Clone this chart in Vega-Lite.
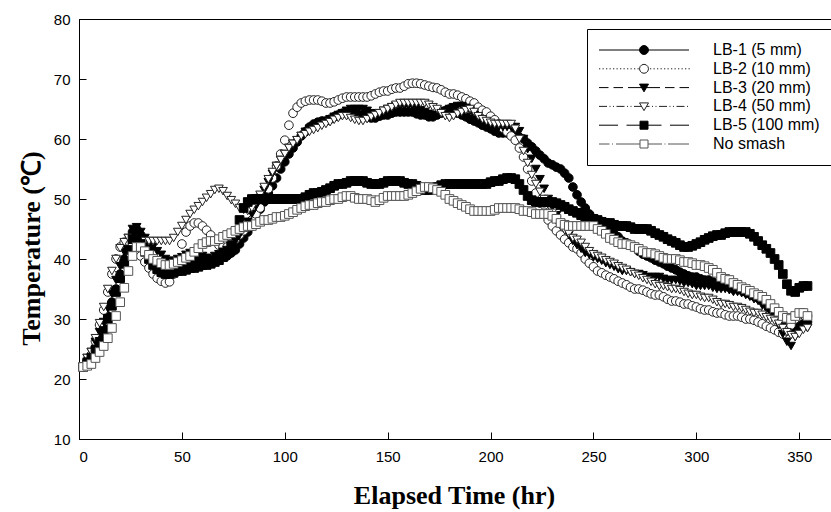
{
  "$schema": "https://vega.github.io/schema/vega-lite/v6.json",
  "autosize": {"type": "none"},
  "padding": {"left": 79, "top": 19, "right": -1, "bottom": 73},
  "width": 753,
  "height": 420,
  "background": "white",
  "config": {
    "view": {"stroke": "black", "strokeWidth": 1},
    "axis": {
      "domainColor": "black", "tickColor": "black", "labelColor": "black", "titleColor": "black",
      "labelFont": "Liberation Sans", "labelFontSize": 15,
      "titleFont": "Liberation Serif", "titleFontSize": 26, "titleFontWeight": "bold",
      "grid": false, "tickSize": -7, "domainWidth": 1, "tickWidth": 1
    },
    "legend": {
      "orient": "none", "legendX": 508, "legendY": 10,
      "strokeColor": "black", "fillColor": "white", "padding": 13,
      "labelFont": "Liberation Sans", "labelFontSize": 16, "labelColor": "black",
      "labelOffset": 101, "symbolOffset": -4, "rowPadding": 2.8, "symbolSize": 100, "symbolStrokeWidth": 1,
      "labelLimit": 400
    }
  },
  "data": {"name": "temps"},
  "mark": {"type": "point", "filled": true, "size": 75, "strokeWidth": 1, "opacity": 1},
  "encoding": {
    "x": {"field": "t", "type": "quantitative", "scale": {"domain": [0, 365.9], "nice": false, "zero": false},
          "axis": {"values": [0, 50, 100, 150, 200, 250, 300, 350], "title": "Elapsed Time (hr)", "labelPadding": 17, "titlePadding": 18, "titleX": 375}},
    "y": {"field": "v", "type": "quantitative", "scale": {"domain": [10, 80], "nice": false, "zero": false},
          "axis": {"values": [10, 20, 30, 40, 50, 60, 70, 80], "title": "Temperature (℃)", "labelPadding": 16, "titlePadding": 9, "titleY": 229,
                   "grid": true, "gridColor": "black", "gridWidth": 1,
                   "gridOpacity": {"condition": {"test": "datum.value === 80", "value": 1}, "value": 0}}},
    "shape": {"field": "s", "type": "nominal", "legend": null,
              "scale": {"range": ["circle", "circle", "triangle-down", "triangle-down", "square", "square"]}},
    "fill": {"field": "s", "type": "nominal",
             "scale": {"domain": ["a", "b", "c", "d", "e", "f"], "range": ["black", "white", "black", "white", "black", "white"]},
             "legend": {"title": null,
                "labelExpr": "{'a':'LB-1 (5 mm)','b':'LB-2 (10 mm)','c':'LB-3 (20 mm)','d':'LB-4 (50 mm)','e':'LB-5 (100 mm)','f':'No smash'}[datum.value]",
                "encoding": {"symbols": {"shape": {"value": {"expr": "datum.value === 'a' ? 'M-1,0H17M8.9,0L8.78,0.45L8.45,0.78L8,0.9L7.55,0.78L7.22,0.45L7.1,0L7.22,-0.45L7.55,-0.78L8,-0.9L8.45,-0.78L8.78,-0.45Z' : datum.value === 'b' ? 'M-1,0h0.25m0.45,0h0.25m0.45,0h0.25m0.45,0h0.25m0.45,0h0.25m0.45,0h0.25m0.45,0h0.25m0.45,0h0.25m0.45,0h0.25m0.45,0h0.25m0.45,0h0.25m0.45,0h0.25M9.2,0h0.25m0.45,0h0.25m0.45,0h0.25m0.45,0h0.25m0.45,0h0.25m0.45,0h0.25m0.45,0h0.25m0.45,0h0.25m0.45,0h0.25m0.45,0h0.25m0.45,0h0.25m0.45,0h0.25M8.9,0L8.78,0.45L8.45,0.78L8,0.9L7.55,0.78L7.22,0.45L7.1,0L7.22,-0.45L7.55,-0.78L8,-0.9L8.45,-0.78L8.78,-0.45Z' : datum.value === 'c' ? 'M-1,0H0.9M1.9,0H3.8M4.8,0H11.2M12.2,0H14.1M15.1,0H17M7.1,-0.7L8.9,-0.7L8,0.85Z' : datum.value === 'd' ? 'M-1,0H0.6M1.1,0h0.2M1.8,0h0.2M2.5,0H4.1M4.6,0h0.2M5.3,0h0.2M6,0H7.5M8.5,0H9.1M9.6,0h0.2M10.3,0h0.2M11,0H12.6M13.1,0h0.2M13.8,0h0.2M14.5,0H16.1M16.6,0h0.2M7.1,-0.7L8.9,-0.7L8,0.85Z' : datum.value === 'e' ? 'M-1,0H2.8M4.5,0H11.5M13.2,0H17M7.2,-0.8H8.8V0.8H7.2Z' : 'M-1,0H1.1M1.6,0h0.2M2.4,0H7.2M8.8,0H11.6M12.1,0h0.2M12.8,0H17M7.2,-0.8H8.8V0.8H7.2Z'"}}}}
             }},
    "stroke": {"field": "s", "type": "nominal",
               "scale": {"domain": ["a", "b", "c", "d", "e", "f"], "range": ["black", "#222222", "black", "#222222", "black", "#555555"]}}
  },
  "datasets": {
    "temps": [
{"s":"a","t":2,"v":22},{"s":"a","t":4,"v":23},{"s":"a","t":6,"v":24},{"s":"a","t":8,"v":25.3},{"s":"a","t":10,"v":26.8},{"s":"a","t":12,"v":28.5},{"s":"a","t":14,"v":30.5},{"s":"a","t":16,"v":32.8},{"s":"a","t":18,"v":35},{"s":"a","t":20,"v":37.5},{"s":"a","t":22,"v":40},{"s":"a","t":24,"v":42},{"s":"a","t":26,"v":44.5},{"s":"a","t":28,"v":45},{"s":"a","t":30,"v":44},{"s":"a","t":32,"v":42.5},{"s":"a","t":34,"v":41.5},{"s":"a","t":36,"v":40},{"s":"a","t":38,"v":39},{"s":"a","t":40,"v":38},{"s":"a","t":42,"v":37.5},{"s":"a","t":44,"v":37.5},{"s":"a","t":46,"v":38},{"s":"a","t":48,"v":38.5},{"s":"a","t":50,"v":39},{"s":"a","t":52,"v":39.2},{"s":"a","t":54,"v":39.5},{"s":"a","t":56,"v":40},{"s":"a","t":58,"v":40},{"s":"a","t":60,"v":40},{"s":"a","t":62,"v":39.7},{"s":"a","t":64,"v":39.5},{"s":"a","t":66,"v":40},{"s":"a","t":68,"v":40.3},{"s":"a","t":70,"v":40.5},{"s":"a","t":72,"v":40.5},{"s":"a","t":74,"v":41},{"s":"a","t":76,"v":41.5},{"s":"a","t":78,"v":42.5},{"s":"a","t":80,"v":43.5},{"s":"a","t":82,"v":44.5},{"s":"a","t":84,"v":45.5},{"s":"a","t":86,"v":47},{"s":"a","t":88,"v":48.3},{"s":"a","t":90,"v":49.5},{"s":"a","t":92,"v":51},{"s":"a","t":94,"v":52.2},{"s":"a","t":96,"v":53.5},{"s":"a","t":98,"v":55},{"s":"a","t":100,"v":56.2},{"s":"a","t":102,"v":57.5},{"s":"a","t":104,"v":58.5},{"s":"a","t":106,"v":59.5},{"s":"a","t":108,"v":60.5},{"s":"a","t":110,"v":61.2},{"s":"a","t":112,"v":62},{"s":"a","t":114,"v":62.5},{"s":"a","t":116,"v":62.8},{"s":"a","t":118,"v":63},{"s":"a","t":120,"v":63},{"s":"a","t":122,"v":63.3},{"s":"a","t":124,"v":63.7},{"s":"a","t":126,"v":64},{"s":"a","t":128,"v":64.3},{"s":"a","t":130,"v":64.5},{"s":"a","t":132,"v":64.5},{"s":"a","t":134,"v":64.2},{"s":"a","t":136,"v":64},{"s":"a","t":138,"v":64},{"s":"a","t":140,"v":63.7},{"s":"a","t":142,"v":63.5},{"s":"a","t":144,"v":63.5},{"s":"a","t":146,"v":63.8},{"s":"a","t":148,"v":64},{"s":"a","t":150,"v":64},{"s":"a","t":152,"v":64.3},{"s":"a","t":154,"v":64.5},{"s":"a","t":156,"v":64.5},{"s":"a","t":158,"v":64.5},{"s":"a","t":160,"v":64.5},{"s":"a","t":162,"v":64.5},{"s":"a","t":164,"v":64.2},{"s":"a","t":166,"v":64},{"s":"a","t":168,"v":64},{"s":"a","t":170,"v":63.7},{"s":"a","t":172,"v":63.7},{"s":"a","t":174,"v":64},{"s":"a","t":176,"v":64.3},{"s":"a","t":178,"v":64.7},{"s":"a","t":180,"v":65},{"s":"a","t":182,"v":64.7},{"s":"a","t":184,"v":64.3},{"s":"a","t":186,"v":64},{"s":"a","t":188,"v":63.7},{"s":"a","t":190,"v":63.3},{"s":"a","t":192,"v":63},{"s":"a","t":194,"v":62.7},{"s":"a","t":196,"v":62.3},{"s":"a","t":198,"v":62},{"s":"a","t":200,"v":61.7},{"s":"a","t":202,"v":61.3},{"s":"a","t":204,"v":61},{"s":"a","t":206,"v":61},{"s":"a","t":208,"v":61},{"s":"a","t":210,"v":61},{"s":"a","t":212,"v":60.7},{"s":"a","t":214,"v":60.3},{"s":"a","t":216,"v":60},{"s":"a","t":218,"v":59.3},{"s":"a","t":220,"v":58.7},{"s":"a","t":222,"v":58},{"s":"a","t":224,"v":57.3},{"s":"a","t":226,"v":56.7},{"s":"a","t":228,"v":56},{"s":"a","t":230,"v":55.7},{"s":"a","t":232,"v":55.3},{"s":"a","t":234,"v":55},{"s":"a","t":236,"v":54.3},{"s":"a","t":238,"v":53.5},{"s":"a","t":240,"v":52},{"s":"a","t":242,"v":50.7},{"s":"a","t":244,"v":49.5},{"s":"a","t":246,"v":48.5},{"s":"a","t":248,"v":47.5},{"s":"a","t":250,"v":46.7},{"s":"a","t":252,"v":46},{"s":"a","t":254,"v":45.3},{"s":"a","t":256,"v":44.8},{"s":"a","t":258,"v":44.5},{"s":"a","t":260,"v":44.2},{"s":"a","t":262,"v":43.7},{"s":"a","t":264,"v":43},{"s":"a","t":266,"v":42.7},{"s":"a","t":268,"v":42.3},{"s":"a","t":270,"v":42},{"s":"a","t":272,"v":41.3},{"s":"a","t":274,"v":40.8},{"s":"a","t":276,"v":40.5},{"s":"a","t":278,"v":40.2},{"s":"a","t":280,"v":39.8},{"s":"a","t":282,"v":39.5},{"s":"a","t":284,"v":39.2},{"s":"a","t":286,"v":38.8},{"s":"a","t":288,"v":38.5},{"s":"a","t":290,"v":38.2},{"s":"a","t":292,"v":37.8},{"s":"a","t":294,"v":37.5},{"s":"a","t":296,"v":37.2},{"s":"a","t":298,"v":37},{"s":"a","t":300,"v":37},{"s":"a","t":302,"v":36.7},{"s":"a","t":304,"v":36.5},{"s":"a","t":306,"v":36.5},{"s":"a","t":308,"v":36.2},{"s":"a","t":310,"v":35.8},{"s":"a","t":312,"v":35.5},{"s":"a","t":314,"v":35.5},{"s":"a","t":316,"v":35.3},{"s":"a","t":318,"v":35},{"s":"a","t":320,"v":35},{"s":"a","t":322,"v":34.8},{"s":"a","t":324,"v":34.5},{"s":"a","t":326,"v":34.2},{"s":"a","t":328,"v":33.8},{"s":"a","t":330,"v":33.5},{"s":"a","t":332,"v":33.2},{"s":"a","t":334,"v":32.7},{"s":"a","t":336,"v":32},{"s":"a","t":338,"v":31.3},{"s":"a","t":340,"v":30.7},{"s":"a","t":342,"v":30},{"s":"a","t":344,"v":29.3},{"s":"a","t":346,"v":28.8},{"s":"a","t":348,"v":28.5},{"s":"a","t":350,"v":28.8},{"s":"a","t":352,"v":29.2},{"s":"a","t":354,"v":29.5},
{"s":"b","t":2,"v":22},{"s":"b","t":4,"v":23},{"s":"b","t":6,"v":24},{"s":"b","t":8,"v":26.3},{"s":"b","t":10,"v":29},{"s":"b","t":12,"v":31.5},{"s":"b","t":14,"v":34.5},{"s":"b","t":16,"v":37.5},{"s":"b","t":18,"v":40},{"s":"b","t":20,"v":42},{"s":"b","t":22,"v":42.8},{"s":"b","t":24,"v":43},{"s":"b","t":26,"v":42.5},{"s":"b","t":28,"v":41.5},{"s":"b","t":30,"v":40.5},{"s":"b","t":32,"v":39.5},{"s":"b","t":34,"v":38.5},{"s":"b","t":36,"v":37.5},{"s":"b","t":38,"v":36.8},{"s":"b","t":40,"v":36.3},{"s":"b","t":42,"v":36},{"s":"b","t":44,"v":36.2},{"s":"b","t":46,"v":37.5},{"s":"b","t":48,"v":39.5},{"s":"b","t":50,"v":42.5},{"s":"b","t":52,"v":44.5},{"s":"b","t":54,"v":45.5},{"s":"b","t":56,"v":46},{"s":"b","t":58,"v":46},{"s":"b","t":60,"v":45.5},{"s":"b","t":62,"v":44.8},{"s":"b","t":64,"v":44},{"s":"b","t":66,"v":43},{"s":"b","t":68,"v":42.3},{"s":"b","t":70,"v":42},{"s":"b","t":72,"v":42},{"s":"b","t":74,"v":42.5},{"s":"b","t":76,"v":43.3},{"s":"b","t":78,"v":44},{"s":"b","t":80,"v":44.7},{"s":"b","t":82,"v":45.3},{"s":"b","t":84,"v":46.5},{"s":"b","t":86,"v":47.5},{"s":"b","t":88,"v":48.5},{"s":"b","t":90,"v":50},{"s":"b","t":92,"v":51.7},{"s":"b","t":94,"v":53.5},{"s":"b","t":96,"v":55.5},{"s":"b","t":98,"v":57.5},{"s":"b","t":100,"v":59.8},{"s":"b","t":102,"v":62.3},{"s":"b","t":104,"v":64.3},{"s":"b","t":106,"v":65.3},{"s":"b","t":108,"v":66},{"s":"b","t":110,"v":66.3},{"s":"b","t":112,"v":66.5},{"s":"b","t":114,"v":66.5},{"s":"b","t":116,"v":66.5},{"s":"b","t":118,"v":66.3},{"s":"b","t":120,"v":66},{"s":"b","t":122,"v":66},{"s":"b","t":124,"v":66.2},{"s":"b","t":126,"v":66.5},{"s":"b","t":128,"v":66.8},{"s":"b","t":130,"v":67},{"s":"b","t":132,"v":67},{"s":"b","t":134,"v":67},{"s":"b","t":136,"v":67},{"s":"b","t":138,"v":67},{"s":"b","t":140,"v":67},{"s":"b","t":142,"v":67.2},{"s":"b","t":144,"v":67.5},{"s":"b","t":146,"v":67.8},{"s":"b","t":148,"v":68},{"s":"b","t":150,"v":68},{"s":"b","t":152,"v":68.3},{"s":"b","t":154,"v":68.5},{"s":"b","t":156,"v":68.5},{"s":"b","t":158,"v":68.8},{"s":"b","t":160,"v":69.2},{"s":"b","t":162,"v":69.3},{"s":"b","t":164,"v":69.3},{"s":"b","t":166,"v":69.2},{"s":"b","t":168,"v":69},{"s":"b","t":170,"v":68.8},{"s":"b","t":172,"v":68.6},{"s":"b","t":174,"v":68.5},{"s":"b","t":176,"v":68.2},{"s":"b","t":178,"v":67.8},{"s":"b","t":180,"v":67.5},{"s":"b","t":182,"v":67.5},{"s":"b","t":184,"v":67.3},{"s":"b","t":186,"v":67},{"s":"b","t":188,"v":66.7},{"s":"b","t":190,"v":66.3},{"s":"b","t":192,"v":66},{"s":"b","t":194,"v":65.3},{"s":"b","t":196,"v":64.8},{"s":"b","t":198,"v":64.5},{"s":"b","t":200,"v":63.8},{"s":"b","t":202,"v":63.2},{"s":"b","t":204,"v":62.5},{"s":"b","t":206,"v":61.8},{"s":"b","t":208,"v":61.2},{"s":"b","t":210,"v":60.5},{"s":"b","t":212,"v":59.8},{"s":"b","t":214,"v":58.5},{"s":"b","t":216,"v":57},{"s":"b","t":218,"v":55},{"s":"b","t":220,"v":53},{"s":"b","t":222,"v":51},{"s":"b","t":224,"v":49.3},{"s":"b","t":226,"v":47.8},{"s":"b","t":228,"v":46.5},{"s":"b","t":230,"v":45.5},{"s":"b","t":232,"v":44.7},{"s":"b","t":234,"v":44},{"s":"b","t":236,"v":43.3},{"s":"b","t":238,"v":42.7},{"s":"b","t":240,"v":42},{"s":"b","t":242,"v":41.7},{"s":"b","t":244,"v":41},{"s":"b","t":246,"v":40},{"s":"b","t":248,"v":39.3},{"s":"b","t":250,"v":38.7},{"s":"b","t":252,"v":38},{"s":"b","t":254,"v":37.7},{"s":"b","t":256,"v":37.3},{"s":"b","t":258,"v":37},{"s":"b","t":260,"v":36.7},{"s":"b","t":262,"v":36.3},{"s":"b","t":264,"v":36},{"s":"b","t":266,"v":35.7},{"s":"b","t":268,"v":35.3},{"s":"b","t":270,"v":35},{"s":"b","t":272,"v":35},{"s":"b","t":274,"v":34.8},{"s":"b","t":276,"v":34.5},{"s":"b","t":278,"v":34.2},{"s":"b","t":280,"v":34},{"s":"b","t":282,"v":34},{"s":"b","t":284,"v":33.7},{"s":"b","t":286,"v":33.3},{"s":"b","t":288,"v":33},{"s":"b","t":290,"v":33},{"s":"b","t":292,"v":32.8},{"s":"b","t":294,"v":32.5},{"s":"b","t":296,"v":32.5},{"s":"b","t":298,"v":32.2},{"s":"b","t":300,"v":32},{"s":"b","t":302,"v":31.7},{"s":"b","t":304,"v":31.5},{"s":"b","t":306,"v":31.5},{"s":"b","t":308,"v":31.2},{"s":"b","t":310,"v":31},{"s":"b","t":312,"v":31},{"s":"b","t":314,"v":30.7},{"s":"b","t":316,"v":30.5},{"s":"b","t":318,"v":30.5},{"s":"b","t":320,"v":30.5},{"s":"b","t":322,"v":30.3},{"s":"b","t":324,"v":30},{"s":"b","t":326,"v":30},{"s":"b","t":328,"v":29.8},{"s":"b","t":330,"v":29.5},{"s":"b","t":332,"v":29.2},{"s":"b","t":334,"v":28.8},{"s":"b","t":336,"v":28.5},{"s":"b","t":338,"v":28.2},{"s":"b","t":340,"v":27.8},{"s":"b","t":342,"v":27.5},{"s":"b","t":344,"v":28},{"s":"b","t":346,"v":29},{"s":"b","t":348,"v":30},{"s":"b","t":350,"v":30.7},{"s":"b","t":352,"v":31},{"s":"b","t":354,"v":30.5},
{"s":"c","t":2,"v":22},{"s":"c","t":4,"v":23.5},{"s":"c","t":6,"v":24.5},{"s":"c","t":8,"v":26.2},{"s":"c","t":10,"v":27.8},{"s":"c","t":12,"v":29.5},{"s":"c","t":14,"v":31.8},{"s":"c","t":16,"v":34.2},{"s":"c","t":18,"v":36.5},{"s":"c","t":20,"v":38.8},{"s":"c","t":22,"v":41.2},{"s":"c","t":24,"v":43.5},{"s":"c","t":26,"v":45},{"s":"c","t":28,"v":45.3},{"s":"c","t":30,"v":44.5},{"s":"c","t":32,"v":43.5},{"s":"c","t":34,"v":42.7},{"s":"c","t":36,"v":42},{"s":"c","t":38,"v":41.3},{"s":"c","t":40,"v":40.7},{"s":"c","t":42,"v":40},{"s":"c","t":44,"v":39.7},{"s":"c","t":46,"v":39.7},{"s":"c","t":48,"v":40},{"s":"c","t":50,"v":40.3},{"s":"c","t":52,"v":40.7},{"s":"c","t":54,"v":41},{"s":"c","t":56,"v":41},{"s":"c","t":58,"v":40.8},{"s":"c","t":60,"v":40.5},{"s":"c","t":62,"v":40.2},{"s":"c","t":64,"v":40},{"s":"c","t":66,"v":40.5},{"s":"c","t":68,"v":40.8},{"s":"c","t":70,"v":41.2},{"s":"c","t":72,"v":41.5},{"s":"c","t":74,"v":42.2},{"s":"c","t":76,"v":43},{"s":"c","t":78,"v":44},{"s":"c","t":80,"v":45},{"s":"c","t":82,"v":46.2},{"s":"c","t":84,"v":47.5},{"s":"c","t":86,"v":48.8},{"s":"c","t":88,"v":50.2},{"s":"c","t":90,"v":51.5},{"s":"c","t":92,"v":52.8},{"s":"c","t":94,"v":54.2},{"s":"c","t":96,"v":55.5},{"s":"c","t":98,"v":56.5},{"s":"c","t":100,"v":57.5},{"s":"c","t":102,"v":58.5},{"s":"c","t":104,"v":59.2},{"s":"c","t":106,"v":59.8},{"s":"c","t":108,"v":60.5},{"s":"c","t":110,"v":61.2},{"s":"c","t":112,"v":61.7},{"s":"c","t":114,"v":62},{"s":"c","t":116,"v":62.3},{"s":"c","t":118,"v":62.7},{"s":"c","t":120,"v":63},{"s":"c","t":122,"v":63.3},{"s":"c","t":124,"v":63.7},{"s":"c","t":126,"v":64},{"s":"c","t":128,"v":64.3},{"s":"c","t":130,"v":64.7},{"s":"c","t":132,"v":65},{"s":"c","t":134,"v":65},{"s":"c","t":136,"v":65},{"s":"c","t":138,"v":65},{"s":"c","t":140,"v":64.7},{"s":"c","t":142,"v":64.3},{"s":"c","t":144,"v":64},{"s":"c","t":146,"v":64.3},{"s":"c","t":148,"v":64.7},{"s":"c","t":150,"v":65},{"s":"c","t":152,"v":65.3},{"s":"c","t":154,"v":65.5},{"s":"c","t":156,"v":65.5},{"s":"c","t":158,"v":65.5},{"s":"c","t":160,"v":65.5},{"s":"c","t":162,"v":65.5},{"s":"c","t":164,"v":65.2},{"s":"c","t":166,"v":64.8},{"s":"c","t":168,"v":64.5},{"s":"c","t":170,"v":64.2},{"s":"c","t":172,"v":64},{"s":"c","t":174,"v":64},{"s":"c","t":176,"v":64.3},{"s":"c","t":178,"v":64.7},{"s":"c","t":180,"v":65},{"s":"c","t":182,"v":65.3},{"s":"c","t":184,"v":65.5},{"s":"c","t":186,"v":65.5},{"s":"c","t":188,"v":65.2},{"s":"c","t":190,"v":64.7},{"s":"c","t":192,"v":64},{"s":"c","t":194,"v":63.3},{"s":"c","t":196,"v":62.8},{"s":"c","t":198,"v":62.5},{"s":"c","t":200,"v":62.2},{"s":"c","t":202,"v":62},{"s":"c","t":204,"v":62},{"s":"c","t":206,"v":62},{"s":"c","t":208,"v":62},{"s":"c","t":210,"v":62},{"s":"c","t":212,"v":62},{"s":"c","t":214,"v":61.3},{"s":"c","t":216,"v":60},{"s":"c","t":218,"v":58.3},{"s":"c","t":220,"v":56.7},{"s":"c","t":222,"v":55},{"s":"c","t":224,"v":53.3},{"s":"c","t":226,"v":51.7},{"s":"c","t":228,"v":50},{"s":"c","t":230,"v":48.7},{"s":"c","t":232,"v":47.3},{"s":"c","t":234,"v":46},{"s":"c","t":236,"v":45},{"s":"c","t":238,"v":44},{"s":"c","t":240,"v":43},{"s":"c","t":242,"v":42.3},{"s":"c","t":244,"v":41.7},{"s":"c","t":246,"v":41},{"s":"c","t":248,"v":40.7},{"s":"c","t":250,"v":40.3},{"s":"c","t":252,"v":40},{"s":"c","t":254,"v":39.7},{"s":"c","t":256,"v":39.3},{"s":"c","t":258,"v":39},{"s":"c","t":260,"v":38.7},{"s":"c","t":262,"v":38.3},{"s":"c","t":264,"v":38},{"s":"c","t":266,"v":38},{"s":"c","t":268,"v":37.8},{"s":"c","t":270,"v":37.5},{"s":"c","t":272,"v":37.5},{"s":"c","t":274,"v":37.3},{"s":"c","t":276,"v":37},{"s":"c","t":278,"v":37},{"s":"c","t":280,"v":37},{"s":"c","t":282,"v":37},{"s":"c","t":284,"v":36.7},{"s":"c","t":286,"v":36.5},{"s":"c","t":288,"v":36.5},{"s":"c","t":290,"v":36.5},{"s":"c","t":292,"v":36.3},{"s":"c","t":294,"v":36},{"s":"c","t":296,"v":36},{"s":"c","t":298,"v":35.8},{"s":"c","t":300,"v":35.5},{"s":"c","t":302,"v":35.5},{"s":"c","t":304,"v":35.5},{"s":"c","t":306,"v":35.5},{"s":"c","t":308,"v":35.2},{"s":"c","t":310,"v":35},{"s":"c","t":312,"v":35},{"s":"c","t":314,"v":35},{"s":"c","t":316,"v":34.8},{"s":"c","t":318,"v":34.5},{"s":"c","t":320,"v":34.5},{"s":"c","t":322,"v":34.3},{"s":"c","t":324,"v":34},{"s":"c","t":326,"v":33.7},{"s":"c","t":328,"v":33.3},{"s":"c","t":330,"v":33},{"s":"c","t":332,"v":32.3},{"s":"c","t":334,"v":31.7},{"s":"c","t":336,"v":31},{"s":"c","t":338,"v":30},{"s":"c","t":340,"v":29},{"s":"c","t":342,"v":27.5},{"s":"c","t":344,"v":26.2},{"s":"c","t":346,"v":25.5},{"s":"c","t":348,"v":27},{"s":"c","t":350,"v":28},{"s":"c","t":352,"v":28.5},{"s":"c","t":354,"v":28.5},
{"s":"d","t":2,"v":22},{"s":"d","t":4,"v":23.5},{"s":"d","t":6,"v":24.5},{"s":"d","t":8,"v":26.8},{"s":"d","t":10,"v":29.3},{"s":"d","t":12,"v":32},{"s":"d","t":14,"v":35},{"s":"d","t":16,"v":38},{"s":"d","t":18,"v":40},{"s":"d","t":20,"v":41.8},{"s":"d","t":22,"v":42.8},{"s":"d","t":24,"v":43.5},{"s":"d","t":26,"v":43.5},{"s":"d","t":28,"v":43.3},{"s":"d","t":30,"v":43},{"s":"d","t":32,"v":43},{"s":"d","t":34,"v":43},{"s":"d","t":36,"v":43},{"s":"d","t":38,"v":43},{"s":"d","t":40,"v":43},{"s":"d","t":42,"v":43},{"s":"d","t":44,"v":43},{"s":"d","t":46,"v":43.5},{"s":"d","t":48,"v":44.5},{"s":"d","t":50,"v":45.5},{"s":"d","t":52,"v":46.5},{"s":"d","t":54,"v":47.5},{"s":"d","t":56,"v":48.2},{"s":"d","t":58,"v":48.8},{"s":"d","t":60,"v":49.5},{"s":"d","t":62,"v":50.2},{"s":"d","t":64,"v":50.8},{"s":"d","t":66,"v":51.5},{"s":"d","t":68,"v":51.7},{"s":"d","t":70,"v":51.3},{"s":"d","t":72,"v":50.5},{"s":"d","t":74,"v":49.8},{"s":"d","t":76,"v":49.2},{"s":"d","t":78,"v":48.5},{"s":"d","t":80,"v":48.2},{"s":"d","t":82,"v":48},{"s":"d","t":84,"v":48.5},{"s":"d","t":86,"v":49.5},{"s":"d","t":88,"v":50.7},{"s":"d","t":90,"v":52},{"s":"d","t":92,"v":53.3},{"s":"d","t":94,"v":54.5},{"s":"d","t":96,"v":55.5},{"s":"d","t":98,"v":56.5},{"s":"d","t":100,"v":57.5},{"s":"d","t":102,"v":58.5},{"s":"d","t":104,"v":59.2},{"s":"d","t":106,"v":59.8},{"s":"d","t":108,"v":60.5},{"s":"d","t":110,"v":60.8},{"s":"d","t":112,"v":61.2},{"s":"d","t":114,"v":61.5},{"s":"d","t":116,"v":61.8},{"s":"d","t":118,"v":62.2},{"s":"d","t":120,"v":62.5},{"s":"d","t":122,"v":62.8},{"s":"d","t":124,"v":63.2},{"s":"d","t":126,"v":63.5},{"s":"d","t":128,"v":63.8},{"s":"d","t":130,"v":63.8},{"s":"d","t":132,"v":63.5},{"s":"d","t":134,"v":63.2},{"s":"d","t":136,"v":63},{"s":"d","t":138,"v":63},{"s":"d","t":140,"v":63.3},{"s":"d","t":142,"v":63.7},{"s":"d","t":144,"v":64},{"s":"d","t":146,"v":64.3},{"s":"d","t":148,"v":64.7},{"s":"d","t":150,"v":65},{"s":"d","t":152,"v":65.3},{"s":"d","t":154,"v":65.7},{"s":"d","t":156,"v":66},{"s":"d","t":158,"v":66},{"s":"d","t":160,"v":66},{"s":"d","t":162,"v":66},{"s":"d","t":164,"v":66},{"s":"d","t":166,"v":66},{"s":"d","t":168,"v":66},{"s":"d","t":170,"v":65.7},{"s":"d","t":172,"v":65.3},{"s":"d","t":174,"v":65},{"s":"d","t":176,"v":64.3},{"s":"d","t":178,"v":63.8},{"s":"d","t":180,"v":63.5},{"s":"d","t":182,"v":63.8},{"s":"d","t":184,"v":64.2},{"s":"d","t":186,"v":64.5},{"s":"d","t":188,"v":64.8},{"s":"d","t":190,"v":65},{"s":"d","t":192,"v":64.5},{"s":"d","t":194,"v":63.8},{"s":"d","t":196,"v":63.3},{"s":"d","t":198,"v":63},{"s":"d","t":200,"v":62.7},{"s":"d","t":202,"v":62.5},{"s":"d","t":204,"v":62.5},{"s":"d","t":206,"v":62.5},{"s":"d","t":208,"v":62.5},{"s":"d","t":210,"v":62.5},{"s":"d","t":212,"v":61.7},{"s":"d","t":214,"v":60},{"s":"d","t":216,"v":58},{"s":"d","t":218,"v":56},{"s":"d","t":220,"v":54},{"s":"d","t":222,"v":52.5},{"s":"d","t":224,"v":51.2},{"s":"d","t":226,"v":50},{"s":"d","t":228,"v":49},{"s":"d","t":230,"v":47.7},{"s":"d","t":232,"v":46.5},{"s":"d","t":234,"v":45.5},{"s":"d","t":236,"v":44.8},{"s":"d","t":238,"v":44.2},{"s":"d","t":240,"v":43.5},{"s":"d","t":242,"v":43.2},{"s":"d","t":244,"v":42.7},{"s":"d","t":246,"v":42},{"s":"d","t":248,"v":41.3},{"s":"d","t":250,"v":40.8},{"s":"d","t":252,"v":40.5},{"s":"d","t":254,"v":40.2},{"s":"d","t":256,"v":39.8},{"s":"d","t":258,"v":39.5},{"s":"d","t":260,"v":39.2},{"s":"d","t":262,"v":38.8},{"s":"d","t":264,"v":38.5},{"s":"d","t":266,"v":38.2},{"s":"d","t":268,"v":37.8},{"s":"d","t":270,"v":37.5},{"s":"d","t":272,"v":37.2},{"s":"d","t":274,"v":36.8},{"s":"d","t":276,"v":36.5},{"s":"d","t":278,"v":36.2},{"s":"d","t":280,"v":35.8},{"s":"d","t":282,"v":35.5},{"s":"d","t":284,"v":35.5},{"s":"d","t":286,"v":35.3},{"s":"d","t":288,"v":35},{"s":"d","t":290,"v":35},{"s":"d","t":292,"v":34.8},{"s":"d","t":294,"v":34.5},{"s":"d","t":296,"v":34.2},{"s":"d","t":298,"v":34},{"s":"d","t":300,"v":34},{"s":"d","t":302,"v":33.7},{"s":"d","t":304,"v":33.5},{"s":"d","t":306,"v":33.5},{"s":"d","t":308,"v":33.2},{"s":"d","t":310,"v":32.8},{"s":"d","t":312,"v":32.5},{"s":"d","t":314,"v":32.5},{"s":"d","t":316,"v":32.3},{"s":"d","t":318,"v":32},{"s":"d","t":320,"v":32},{"s":"d","t":322,"v":31.8},{"s":"d","t":324,"v":31.5},{"s":"d","t":326,"v":31.2},{"s":"d","t":328,"v":31},{"s":"d","t":330,"v":31},{"s":"d","t":332,"v":30.7},{"s":"d","t":334,"v":30.3},{"s":"d","t":336,"v":30},{"s":"d","t":338,"v":29.7},{"s":"d","t":340,"v":29.2},{"s":"d","t":342,"v":28.5},{"s":"d","t":344,"v":27.8},{"s":"d","t":346,"v":27.3},{"s":"d","t":348,"v":27},{"s":"d","t":350,"v":27.5},{"s":"d","t":352,"v":28.2},{"s":"d","t":354,"v":28.5},
{"s":"e","t":2,"v":22},{"s":"e","t":4,"v":22.8},{"s":"e","t":6,"v":23.5},{"s":"e","t":8,"v":24.8},{"s":"e","t":10,"v":26.2},{"s":"e","t":12,"v":28},{"s":"e","t":14,"v":30},{"s":"e","t":16,"v":32.2},{"s":"e","t":18,"v":34.5},{"s":"e","t":20,"v":36.8},{"s":"e","t":22,"v":39.2},{"s":"e","t":24,"v":41.5},{"s":"e","t":26,"v":43.3},{"s":"e","t":28,"v":43.8},{"s":"e","t":30,"v":42.5},{"s":"e","t":32,"v":41.2},{"s":"e","t":34,"v":40},{"s":"e","t":36,"v":39},{"s":"e","t":38,"v":38.3},{"s":"e","t":40,"v":37.8},{"s":"e","t":42,"v":37.5},{"s":"e","t":44,"v":37.5},{"s":"e","t":46,"v":37.7},{"s":"e","t":48,"v":38},{"s":"e","t":50,"v":38},{"s":"e","t":52,"v":38.2},{"s":"e","t":54,"v":38.5},{"s":"e","t":56,"v":38.5},{"s":"e","t":58,"v":38.7},{"s":"e","t":60,"v":39},{"s":"e","t":62,"v":39},{"s":"e","t":64,"v":39.2},{"s":"e","t":66,"v":39.5},{"s":"e","t":68,"v":39.8},{"s":"e","t":70,"v":40.3},{"s":"e","t":72,"v":41},{"s":"e","t":74,"v":42.3},{"s":"e","t":76,"v":44},{"s":"e","t":78,"v":46.5},{"s":"e","t":80,"v":48.5},{"s":"e","t":82,"v":49.5},{"s":"e","t":84,"v":50},{"s":"e","t":86,"v":50},{"s":"e","t":88,"v":50},{"s":"e","t":90,"v":50},{"s":"e","t":92,"v":50},{"s":"e","t":94,"v":50},{"s":"e","t":96,"v":50},{"s":"e","t":98,"v":50},{"s":"e","t":100,"v":50},{"s":"e","t":102,"v":50},{"s":"e","t":104,"v":50},{"s":"e","t":106,"v":50},{"s":"e","t":108,"v":50},{"s":"e","t":110,"v":50.3},{"s":"e","t":112,"v":50.7},{"s":"e","t":114,"v":51},{"s":"e","t":116,"v":51},{"s":"e","t":118,"v":51.2},{"s":"e","t":120,"v":51.5},{"s":"e","t":122,"v":51.8},{"s":"e","t":124,"v":52.2},{"s":"e","t":126,"v":52.5},{"s":"e","t":128,"v":52.5},{"s":"e","t":130,"v":52.7},{"s":"e","t":132,"v":53},{"s":"e","t":134,"v":53},{"s":"e","t":136,"v":53},{"s":"e","t":138,"v":53},{"s":"e","t":140,"v":52.7},{"s":"e","t":142,"v":52.5},{"s":"e","t":144,"v":52.5},{"s":"e","t":146,"v":52.5},{"s":"e","t":148,"v":52.7},{"s":"e","t":150,"v":53},{"s":"e","t":152,"v":53},{"s":"e","t":154,"v":53},{"s":"e","t":156,"v":53},{"s":"e","t":158,"v":52.7},{"s":"e","t":160,"v":52.5},{"s":"e","t":162,"v":52.5},{"s":"e","t":164,"v":52.2},{"s":"e","t":166,"v":51.8},{"s":"e","t":168,"v":51.5},{"s":"e","t":170,"v":51.5},{"s":"e","t":172,"v":51.7},{"s":"e","t":174,"v":52},{"s":"e","t":176,"v":52.3},{"s":"e","t":178,"v":52.5},{"s":"e","t":180,"v":52.5},{"s":"e","t":182,"v":52.5},{"s":"e","t":184,"v":52.5},{"s":"e","t":186,"v":52.5},{"s":"e","t":188,"v":52.5},{"s":"e","t":190,"v":52.5},{"s":"e","t":192,"v":52.5},{"s":"e","t":194,"v":52.5},{"s":"e","t":196,"v":52.5},{"s":"e","t":198,"v":52.5},{"s":"e","t":200,"v":52.8},{"s":"e","t":202,"v":53},{"s":"e","t":204,"v":53},{"s":"e","t":206,"v":53.3},{"s":"e","t":208,"v":53.5},{"s":"e","t":210,"v":53.5},{"s":"e","t":212,"v":53.3},{"s":"e","t":214,"v":52.5},{"s":"e","t":216,"v":51.5},{"s":"e","t":218,"v":50.5},{"s":"e","t":220,"v":49.8},{"s":"e","t":222,"v":49.5},{"s":"e","t":224,"v":49.5},{"s":"e","t":226,"v":49.5},{"s":"e","t":228,"v":49.5},{"s":"e","t":230,"v":49.5},{"s":"e","t":232,"v":49.3},{"s":"e","t":234,"v":49},{"s":"e","t":236,"v":48.7},{"s":"e","t":238,"v":48.3},{"s":"e","t":240,"v":48},{"s":"e","t":242,"v":47.7},{"s":"e","t":244,"v":47.3},{"s":"e","t":246,"v":47},{"s":"e","t":248,"v":47},{"s":"e","t":250,"v":46.7},{"s":"e","t":252,"v":46.5},{"s":"e","t":254,"v":46.2},{"s":"e","t":256,"v":46},{"s":"e","t":258,"v":46},{"s":"e","t":260,"v":45.7},{"s":"e","t":262,"v":45.5},{"s":"e","t":264,"v":45.5},{"s":"e","t":266,"v":45.5},{"s":"e","t":268,"v":45.3},{"s":"e","t":270,"v":45},{"s":"e","t":272,"v":45},{"s":"e","t":274,"v":45},{"s":"e","t":276,"v":45},{"s":"e","t":278,"v":44.7},{"s":"e","t":280,"v":44.3},{"s":"e","t":282,"v":44},{"s":"e","t":284,"v":43.7},{"s":"e","t":286,"v":43.3},{"s":"e","t":288,"v":43},{"s":"e","t":290,"v":42.7},{"s":"e","t":292,"v":42.3},{"s":"e","t":294,"v":42},{"s":"e","t":296,"v":42},{"s":"e","t":298,"v":42.2},{"s":"e","t":300,"v":42.5},{"s":"e","t":302,"v":42.8},{"s":"e","t":304,"v":43.2},{"s":"e","t":306,"v":43.5},{"s":"e","t":308,"v":43.8},{"s":"e","t":310,"v":44},{"s":"e","t":312,"v":44},{"s":"e","t":314,"v":44.3},{"s":"e","t":316,"v":44.5},{"s":"e","t":318,"v":44.5},{"s":"e","t":320,"v":44.5},{"s":"e","t":322,"v":44.5},{"s":"e","t":324,"v":44.5},{"s":"e","t":326,"v":44.2},{"s":"e","t":328,"v":43.7},{"s":"e","t":330,"v":43},{"s":"e","t":332,"v":42.3},{"s":"e","t":334,"v":41.7},{"s":"e","t":336,"v":41},{"s":"e","t":338,"v":40},{"s":"e","t":340,"v":39},{"s":"e","t":342,"v":37.5},{"s":"e","t":344,"v":35.8},{"s":"e","t":346,"v":34.7},{"s":"e","t":348,"v":34.5},{"s":"e","t":350,"v":35.2},{"s":"e","t":352,"v":35.5},{"s":"e","t":354,"v":35.5},
{"s":"f","t":2,"v":22},{"s":"f","t":4,"v":22.2},{"s":"f","t":6,"v":22.5},{"s":"f","t":8,"v":23.5},{"s":"f","t":10,"v":24.5},{"s":"f","t":12,"v":25.5},{"s":"f","t":14,"v":26.8},{"s":"f","t":16,"v":28.5},{"s":"f","t":18,"v":30.5},{"s":"f","t":20,"v":32.8},{"s":"f","t":22,"v":35.2},{"s":"f","t":24,"v":38},{"s":"f","t":26,"v":40.5},{"s":"f","t":28,"v":42},{"s":"f","t":30,"v":42},{"s":"f","t":32,"v":41.3},{"s":"f","t":34,"v":40.7},{"s":"f","t":36,"v":40},{"s":"f","t":38,"v":39.7},{"s":"f","t":40,"v":39.3},{"s":"f","t":42,"v":39},{"s":"f","t":44,"v":39},{"s":"f","t":46,"v":39.2},{"s":"f","t":48,"v":39.5},{"s":"f","t":50,"v":39.8},{"s":"f","t":52,"v":40.2},{"s":"f","t":54,"v":40.5},{"s":"f","t":56,"v":41.2},{"s":"f","t":58,"v":41.8},{"s":"f","t":60,"v":42.5},{"s":"f","t":62,"v":42.8},{"s":"f","t":64,"v":43},{"s":"f","t":66,"v":43},{"s":"f","t":68,"v":43.3},{"s":"f","t":70,"v":43.7},{"s":"f","t":72,"v":44},{"s":"f","t":74,"v":44.3},{"s":"f","t":76,"v":44.7},{"s":"f","t":78,"v":45},{"s":"f","t":80,"v":45.3},{"s":"f","t":82,"v":45.5},{"s":"f","t":84,"v":45.5},{"s":"f","t":86,"v":45.8},{"s":"f","t":88,"v":46.2},{"s":"f","t":90,"v":46.5},{"s":"f","t":92,"v":46.5},{"s":"f","t":94,"v":46.7},{"s":"f","t":96,"v":47},{"s":"f","t":98,"v":47},{"s":"f","t":100,"v":47.2},{"s":"f","t":102,"v":47.5},{"s":"f","t":104,"v":47.8},{"s":"f","t":106,"v":48.2},{"s":"f","t":108,"v":48.5},{"s":"f","t":110,"v":48.8},{"s":"f","t":112,"v":49},{"s":"f","t":114,"v":49},{"s":"f","t":116,"v":49.3},{"s":"f","t":118,"v":49.5},{"s":"f","t":120,"v":49.5},{"s":"f","t":122,"v":49.8},{"s":"f","t":124,"v":50},{"s":"f","t":126,"v":50},{"s":"f","t":128,"v":50.3},{"s":"f","t":130,"v":50.5},{"s":"f","t":132,"v":50.5},{"s":"f","t":134,"v":50.2},{"s":"f","t":136,"v":50},{"s":"f","t":138,"v":50},{"s":"f","t":140,"v":50},{"s":"f","t":142,"v":49.8},{"s":"f","t":144,"v":49.5},{"s":"f","t":146,"v":49.8},{"s":"f","t":148,"v":50.2},{"s":"f","t":150,"v":50.5},{"s":"f","t":152,"v":50.5},{"s":"f","t":154,"v":50.5},{"s":"f","t":156,"v":50.5},{"s":"f","t":158,"v":50.5},{"s":"f","t":160,"v":50.7},{"s":"f","t":162,"v":51},{"s":"f","t":164,"v":51.3},{"s":"f","t":166,"v":51.7},{"s":"f","t":168,"v":52},{"s":"f","t":170,"v":52},{"s":"f","t":172,"v":51.8},{"s":"f","t":174,"v":51.5},{"s":"f","t":176,"v":51.2},{"s":"f","t":178,"v":50.7},{"s":"f","t":180,"v":50},{"s":"f","t":182,"v":49.7},{"s":"f","t":184,"v":49.3},{"s":"f","t":186,"v":49},{"s":"f","t":188,"v":48.7},{"s":"f","t":190,"v":48.3},{"s":"f","t":192,"v":48},{"s":"f","t":194,"v":48},{"s":"f","t":196,"v":48},{"s":"f","t":198,"v":48},{"s":"f","t":200,"v":48},{"s":"f","t":202,"v":48.2},{"s":"f","t":204,"v":48.5},{"s":"f","t":206,"v":48.5},{"s":"f","t":208,"v":48.5},{"s":"f","t":210,"v":48.5},{"s":"f","t":212,"v":48.5},{"s":"f","t":214,"v":48.3},{"s":"f","t":216,"v":48},{"s":"f","t":218,"v":48},{"s":"f","t":220,"v":47.8},{"s":"f","t":222,"v":47.5},{"s":"f","t":224,"v":47.5},{"s":"f","t":226,"v":47.5},{"s":"f","t":228,"v":47.5},{"s":"f","t":230,"v":47.2},{"s":"f","t":232,"v":46.7},{"s":"f","t":234,"v":46},{"s":"f","t":236,"v":45.7},{"s":"f","t":238,"v":45.5},{"s":"f","t":240,"v":45.5},{"s":"f","t":242,"v":45.5},{"s":"f","t":244,"v":45.5},{"s":"f","t":246,"v":45.5},{"s":"f","t":248,"v":45.5},{"s":"f","t":250,"v":45.5},{"s":"f","t":252,"v":45},{"s":"f","t":254,"v":44.7},{"s":"f","t":256,"v":44.2},{"s":"f","t":258,"v":43.5},{"s":"f","t":260,"v":43.2},{"s":"f","t":262,"v":42.8},{"s":"f","t":264,"v":42.5},{"s":"f","t":266,"v":42.5},{"s":"f","t":268,"v":42.3},{"s":"f","t":270,"v":42},{"s":"f","t":272,"v":41.7},{"s":"f","t":274,"v":41.3},{"s":"f","t":276,"v":41},{"s":"f","t":278,"v":41},{"s":"f","t":280,"v":40.8},{"s":"f","t":282,"v":40.5},{"s":"f","t":284,"v":40.2},{"s":"f","t":286,"v":40},{"s":"f","t":288,"v":40},{"s":"f","t":290,"v":40},{"s":"f","t":292,"v":39.8},{"s":"f","t":294,"v":39.5},{"s":"f","t":296,"v":39.5},{"s":"f","t":298,"v":39.3},{"s":"f","t":300,"v":39},{"s":"f","t":302,"v":39},{"s":"f","t":304,"v":38.8},{"s":"f","t":306,"v":38.5},{"s":"f","t":308,"v":38.2},{"s":"f","t":310,"v":37.7},{"s":"f","t":312,"v":37},{"s":"f","t":314,"v":36.7},{"s":"f","t":316,"v":36.5},{"s":"f","t":318,"v":36},{"s":"f","t":320,"v":35.7},{"s":"f","t":322,"v":35.3},{"s":"f","t":324,"v":35},{"s":"f","t":326,"v":34.7},{"s":"f","t":328,"v":34.3},{"s":"f","t":330,"v":34},{"s":"f","t":332,"v":33.7},{"s":"f","t":334,"v":33.2},{"s":"f","t":336,"v":32.5},{"s":"f","t":338,"v":31.8},{"s":"f","t":340,"v":31.2},{"s":"f","t":342,"v":30.5},{"s":"f","t":344,"v":30.2},{"s":"f","t":346,"v":30},{"s":"f","t":348,"v":30.5},{"s":"f","t":350,"v":31},{"s":"f","t":352,"v":31},{"s":"f","t":354,"v":30.5}
    ]
  }
}
